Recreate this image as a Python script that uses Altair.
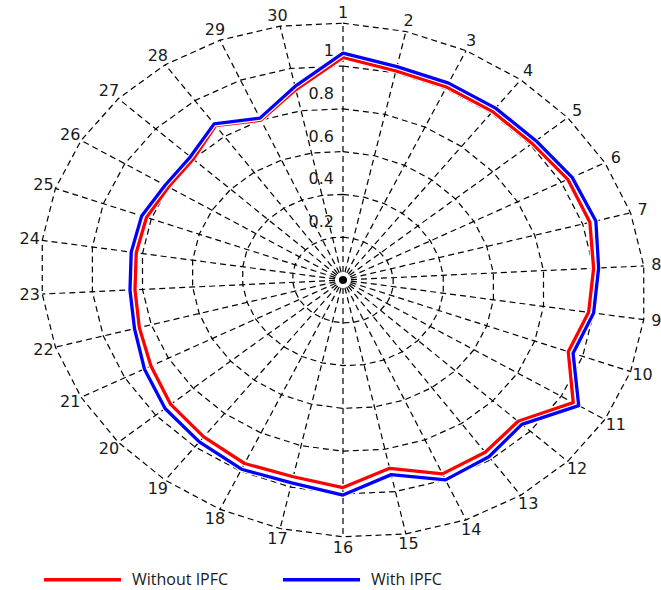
import altair as alt
import pandas as pd

# ---------------- data ----------------
categories = [str(i) for i in range(1, 31)]
without_ipfc = [1.04, 1.01, 1.01, 1.01, 1.01, 1.03, 1.03, 1.00, 0.98, 0.94,
                1.055, 0.935, 0.96, 0.97, 0.89, 0.97, 0.95, 0.96, 0.94, 0.92,
                0.88, 0.85, 0.83, 0.825, 0.82, 0.80, 0.80, 0.86, 0.80, 0.90]
with_ipfc = [1.06, 1.03, 1.03, 1.03, 1.03, 1.05, 1.055, 1.02, 1.00, 0.96,
             1.08, 0.955, 0.985, 1.00, 0.92, 1.005, 0.98, 0.99, 0.97, 0.95,
             0.91, 0.87, 0.85, 0.845, 0.84, 0.815, 0.815, 0.87, 0.81, 0.915]
ring_levels = [0.2, 0.4, 0.6, 0.8, 1.0, 1.2]
ring_labels = ["0.2", "0.4", "0.6", "0.8", "1"]
series_names = ["Without IPFC", "With IPFC"]
series_colors = ["#ff0000", "#0000ff"]

N = len(categories)
R_MAX = 1.2
SHEAR = 0.05
FONT = "DejaVu Sans"
LEGEND_FONT = "Open Sans"

# ---------------- tables ----------------
series_df = pd.DataFrame(
    [{"series": series_names[0], "idx": i, "value": v} for i, v in enumerate(without_ipfc)]
    + [{"series": series_names[1], "idx": i, "value": v} for i, v in enumerate(with_ipfc)]
)
spoke_df = pd.DataFrame({"idx": list(range(N)), "label": categories, "value": [R_MAX] * N})
ring_df = pd.DataFrame(
    [{"ring": r, "idx": i, "value": r} for r in ring_levels for i in range(N)]
)
vlabel_df = pd.DataFrame({"value": ring_levels[:5], "text": ring_labels})


def polar(chart, rfield="value"):
    return chart.transform_calculate(
        theta=f"datum.idx * 2 * PI / {N}"
    ).transform_calculate(
        x=f"datum.{rfield} * sin(datum.theta)",
        y=f"datum.{rfield} * cos(datum.theta) - {SHEAR} * datum.{rfield} * sin(datum.theta)",
    )


xs = alt.Scale(domain=[-343 / 252, 318 / 252], nice=False, zero=False)
ys = alt.Scale(domain=[-310 / 214, 280 / 214], nice=False, zero=False)
X = alt.X("x:Q", scale=xs, axis=None)
Y = alt.Y("y:Q", scale=ys, axis=None)

dash = [6, 4]

rings = polar(alt.Chart(ring_df)).mark_line(
    interpolate="linear-closed", stroke="black", strokeWidth=1.2, strokeDash=dash
).encode(x=X, y=Y, detail="ring:N", order="idx:Q")

spokes = polar(alt.Chart(spoke_df)).transform_calculate(cx="0", cy="0").mark_rule(
    stroke="black", strokeWidth=1.2, strokeDash=dash, strokeDashOffset=2
).encode(
    x=alt.X("cx:Q", scale=xs, axis=None),
    y=alt.Y("cy:Q", scale=ys, axis=None),
    x2="x:Q",
    y2="y:Q",
)

cat_labels = polar(
    alt.Chart(spoke_df).transform_calculate(lr="datum.value + 0.05"), rfield="lr"
).mark_text(font=FONT, fontSize=16, color="#1a1a1a", align="center", baseline="middle").encode(
    x=X, y=Y, text="label:N"
)

val_labels = alt.Chart(vlabel_df).transform_calculate(x="0", y="datum.value").mark_text(
    font=FONT, fontSize=16, color="#1a1a1a", align="right", baseline="middle", dx=-9, dy=-15
).encode(x=X, y=Y, text="text:N")

color = alt.Color(
    "series:N",
    scale=alt.Scale(domain=series_names, range=series_colors),
    legend=alt.Legend(
        orient="none", legendX=42, legendY=539, direction="horizontal", title=None,
        symbolType="stroke", symbolSize=5929, symbolStrokeWidth=3.5,
        labelFontSize=16, labelFont=LEGEND_FONT, labelColor="#1a1a1a", labelOffset=9,
        columnPadding=47,
    ),
)


def series_layers(name):
    base = polar(alt.Chart(series_df).transform_filter(alt.datum.series == name))
    halo = base.mark_line(
        interpolate="linear-closed", stroke="white", strokeWidth=5.5, strokeJoin="round"
    ).encode(x=X, y=Y, order="idx:Q")
    line = base.mark_line(
        interpolate="linear-closed", strokeWidth=3.3, strokeJoin="round"
    ).encode(x=X, y=Y, order="idx:Q", color=color)
    return [halo, line]


layers = [rings, spokes, cat_labels, val_labels] + series_layers(series_names[0]) + series_layers(series_names[1])

chart = alt.layer(*layers).properties(
    width=661, height=590, autosize=alt.AutoSizeParams(type="none"), padding=0,
    background="white",
).configure_view(stroke=None)

chart.save("out.html", embed_options={"renderer": "svg", "actions": False})
